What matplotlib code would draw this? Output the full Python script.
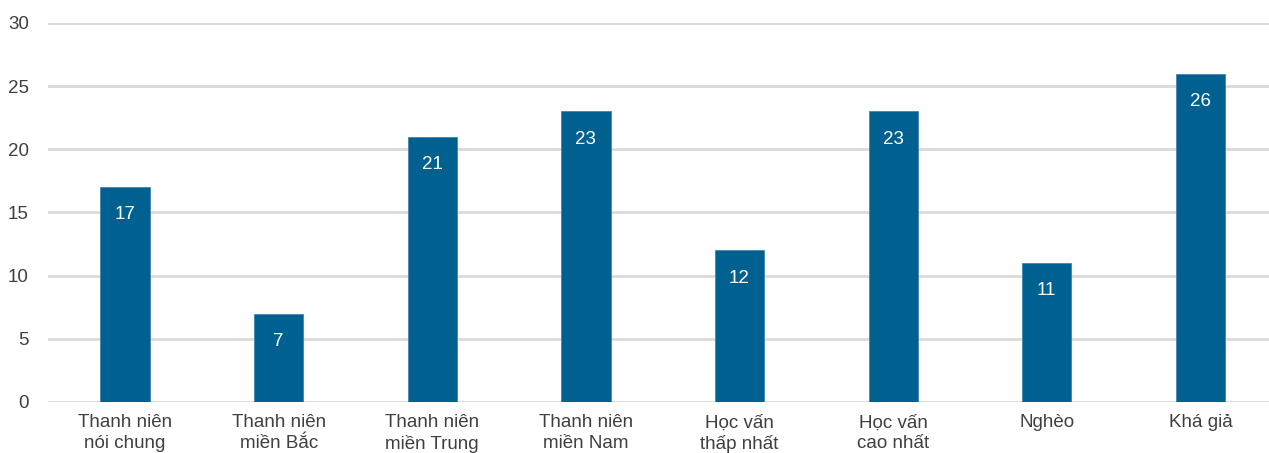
import matplotlib.pyplot as plt

plt.rcParams['font.family'] = ['Liberation Sans', 'DejaVu Sans']

categories = ["Thanh niên\nnói chung", "Thanh niên\nmiền Bắc", "Thanh niên\nmiền Trung",
              "Thanh niên\nmiền Nam", "Học vấn\nthấp nhất", "Học vấn\ncao nhất",
              "Nghèo", "Khá giả"]
values = [17, 7, 21, 23, 12, 23, 11, 26]
yticks = [0, 5, 10, 15, 20, 25, 30]

bar_color = "#00608f"
text_color = "#404040"

fig = plt.figure(figsize=(12.69, 4.53), dpi=100)
ax = fig.add_axes([0.038, 0.1126, 0.9685, 0.8367])

x = range(len(categories))
bars = ax.bar(x, values, width=0.32, color=bar_color, edgecolor="#3f86b0", linewidth=0.6, zorder=3)

for b, v in zip(bars, values):
    ax.annotate(str(v), (b.get_x() + b.get_width() / 2, v), xytext=(0, -20),
                textcoords="offset points", ha="center", va="center",
                color="white", fontsize=13.5, zorder=4)

ax.set_xlim(-0.5, len(categories) - 0.5)
ax.set_ylim(0, 30)
ax.set_yticks(yticks)
ax.set_xticks(list(x))
ax.set_xticklabels(categories, fontsize=13.5, color=text_color, linespacing=1.25)
ax.tick_params(axis="y", labelsize=13.5, labelcolor=text_color, length=0, pad=14)
ax.tick_params(axis="x", length=0, pad=9)
ax.grid(axis="y", color="#d9d9d9", linewidth=2, zorder=0)
ax.set_axisbelow(True)
for s in ax.spines.values():
    s.set_visible(False)

fig.savefig("out.png", dpi=100)
